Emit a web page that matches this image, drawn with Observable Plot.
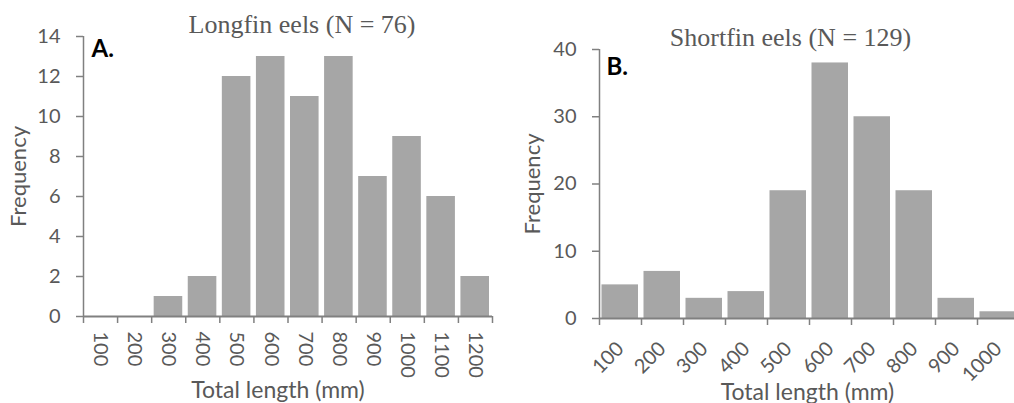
<!DOCTYPE html>
<html>
<head>
<meta charset="utf-8">
<script src="https://cdn.jsdelivr.net/npm/d3@7"></script>
<script src="https://cdn.jsdelivr.net/npm/@observablehq/plot@0.6"></script>
<style>
  html, body { margin: 0; padding: 0; background: #fff; overflow: hidden; width: 1014px; height: 403px; }
  #wrap { position: relative; width: 1014px; height: 403px; }
  .panel { position: absolute; top: 0; }
  #longfin { left: 0; width: 505px; }
  #shortfin { left: 510px; width: 510px; }
</style>
</head>
<body>
<div id="wrap">
  <div class="panel" id="longfin"></div>
  <div class="panel" id="shortfin"></div>
</div>
<script>
// Length classes (upper bound, mm) and eel counts per class
const longfinBins = [100, 200, 300, 400, 500, 600, 700, 800, 900, 1000, 1100, 1200];
const longfinCounts = [0, 0, 1, 2, 12, 13, 11, 13, 7, 9, 6, 2];
const shortfinBins = [100, 200, 300, 400, 500, 600, 700, 800, 900, 1000];
const shortfinCounts = [5, 7, 3, 4, 19, 38, 30, 19, 3, 1];

const longfinTicks = [0, 2, 4, 6, 8, 10, 12, 14];
const shortfinTicks = [0, 10, 20, 30, 40];

const textColor = "#595959";
const lineColor = "#808080";
const barColor = "#a6a6a6";
const sansFont = "Lato, 'Open Sans', sans-serif";
const serifFont = "'Liberation Serif', 'Times New Roman', serif";

function histogram({bins, counts, yTicks, title, tag, width, height, margins, xRotate, xPad, titleDx, titleDy, tagDx, tagDy, yLabelDx, xLabelDx, xLabelDy}) {
  const rows = bins.map((b, i) => ({i, bin: b, count: counts[i]}));
  const n = bins.length;
  const edges = d3.range(n + 1);
  const centers = d3.range(n).map(i => i + 0.5);
  return Plot.plot({
    width, height,
    marginLeft: margins[0], marginRight: margins[1], marginTop: margins[2], marginBottom: margins[3],
    style: {fontFamily: sansFont, color: textColor, background: "#fff"},
    x: {domain: [0, n], axis: null},
    y: {domain: [yTicks[0], yTicks[yTicks.length - 1]], axis: null},
    marks: [
      Plot.rectY(rows, {x1: "i", x2: d => d.i + 1, y: "count", fill: barColor, insetLeft: 2.5, insetRight: 3}),
      // boundary tick marks under each class
      Plot.axisX(edges, {tickSize: 7, tickFormat: () => "", stroke: lineColor, strokeWidth: 1.5, label: null}),
      // class labels centred in each class
      Plot.axisX(centers, {tickSize: 0, tickPadding: xPad, tickRotate: xRotate, tickFormat: d => String(bins[Math.floor(d)]),
        fontSize: 20, fill: textColor, label: null}),
      Plot.ruleY([0], {stroke: lineColor, strokeWidth: 2}),
      Plot.ruleX([0], {stroke: lineColor, strokeWidth: 1.5}),
      Plot.axisY(yTicks, {tickSize: 7, tickPadding: 16, stroke: lineColor, strokeWidth: 1.5, fill: textColor, fontSize: 20, label: null}),
      Plot.text(["Frequency"], {frameAnchor: "left", textAnchor: "middle", rotate: -90, dx: yLabelDx, fontSize: 22, fill: textColor}),
      Plot.text([title], {frameAnchor: "top", dx: titleDx, dy: titleDy, lineAnchor: "bottom",
        fontFamily: serifFont, fontSize: 26, fill: textColor}),
      Plot.text([tag], {frameAnchor: "top-left", textAnchor: "start", dx: tagDx, dy: tagDy, lineAnchor: "top",
        fontSize: 24, fontWeight: "bold", fill: "#000"}),
      Plot.text(["Total length (mm)"], {frameAnchor: "bottom", dx: xLabelDx, dy: xLabelDy, lineAnchor: "bottom",
        fontSize: 23, fill: textColor})
    ]
  });
}

document.getElementById("longfin").append(histogram({
  bins: longfinBins, counts: longfinCounts, yTicks: longfinTicks,
  title: "Longfin eels (N = 76)", tag: "A.",
  width: 505, height: 403, margins: [83, 13, 36, 87],
  xRotate: 90, xPad: 15, titleDx: 14, titleDy: -4, tagDx: 8, tagDy: 3,
  yLabelDx: -65, xLabelDx: -10, xLabelDy: 81
}));

document.getElementById("shortfin").append(histogram({
  bins: shortfinBins, counts: shortfinCounts, yTicks: shortfinTicks,
  title: "Shortfin eels (N = 129)", tag: "B.",
  width: 510, height: 403, margins: [89, 1, 49, 85],
  xRotate: -45, xPad: 27, titleDx: -19, titleDy: -4, tagDx: 7, tagDy: 8,
  yLabelDx: -67, xLabelDx: -2, xLabelDy: 81
}));
</script>
</body>
</html>
